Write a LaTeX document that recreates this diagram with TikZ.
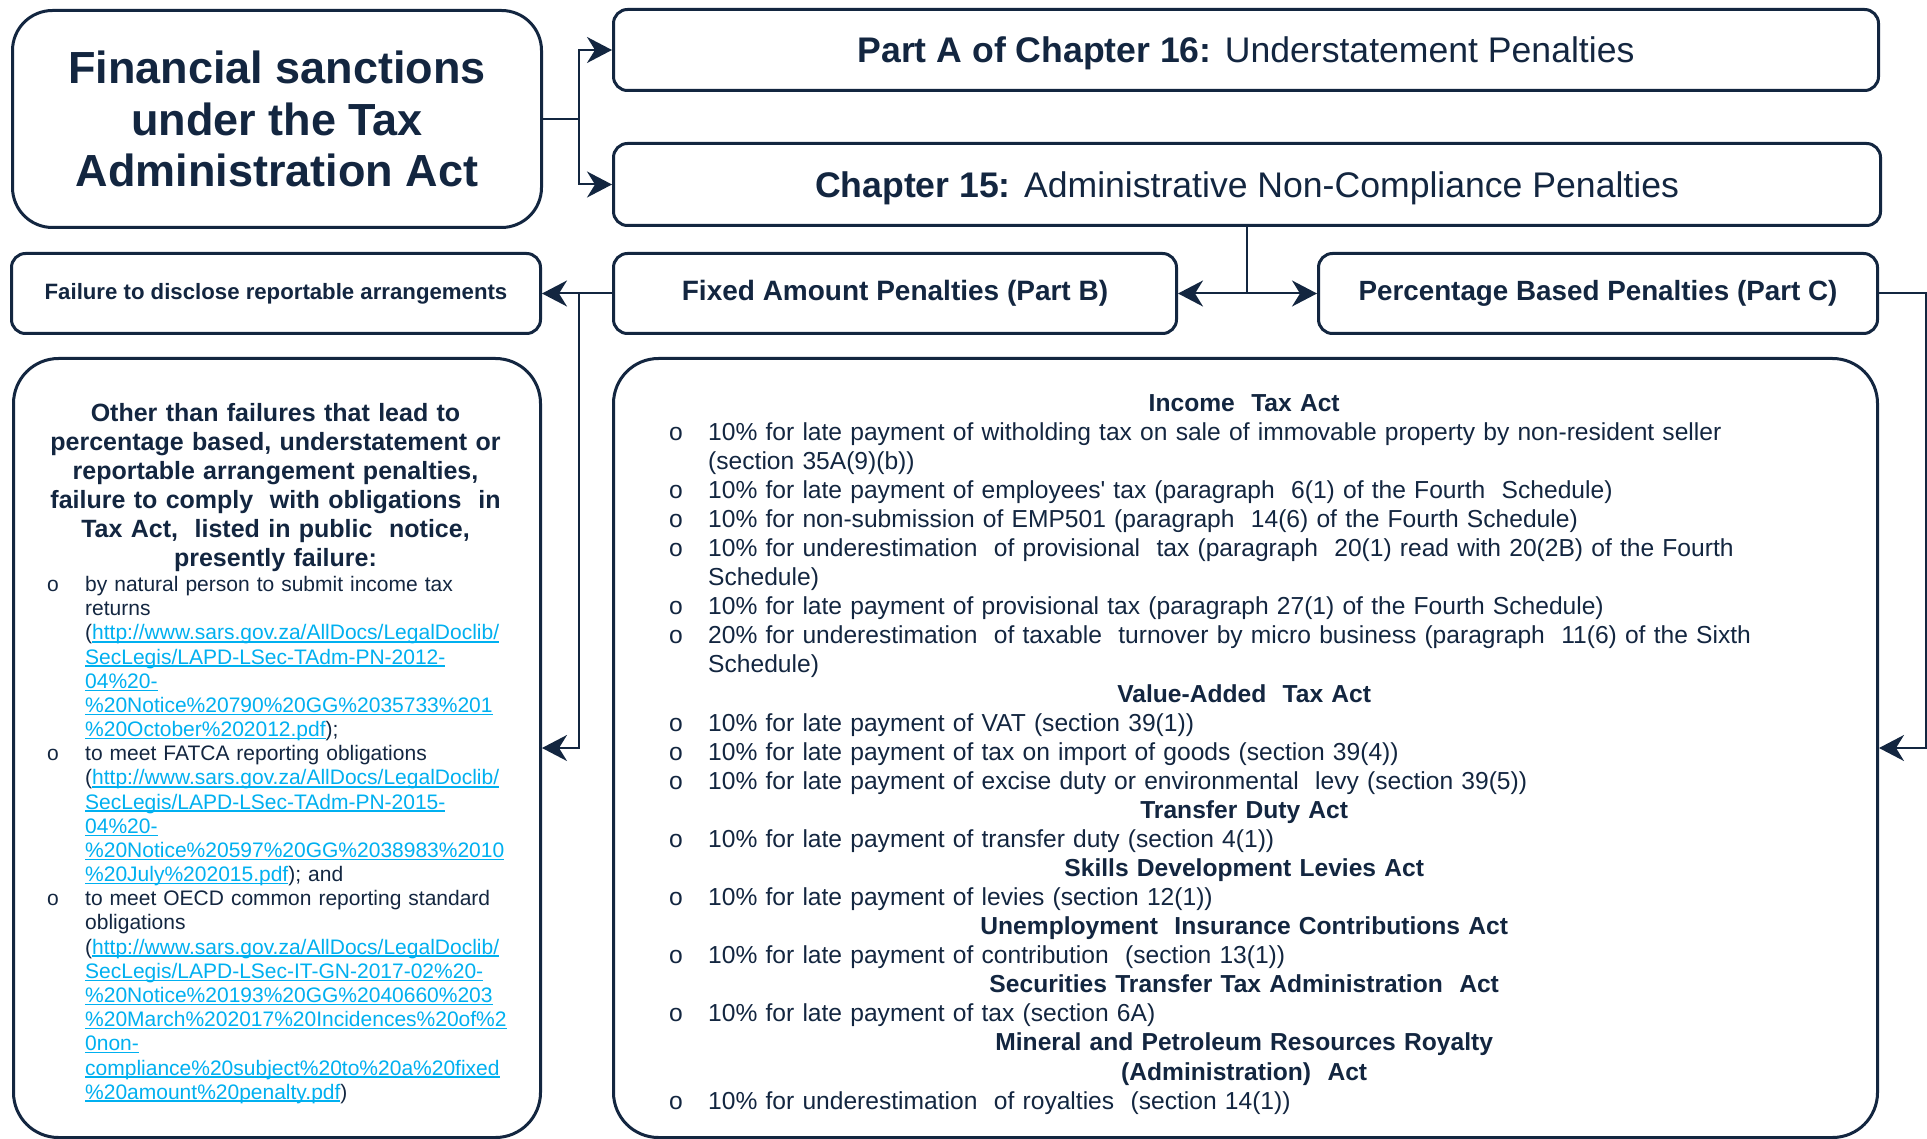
\documentclass[tikz,border=0pt]{standalone}
\usepackage{fontspec}
\setmainfont{Liberation Sans}
\usetikzlibrary{arrows.meta}
\definecolor{navy}{RGB}{19,38,64}
\definecolor{linkblue}{RGB}{0,176,240}
\newcommand\mylnk[1]{{\color{linkblue}\setbox0=\hbox{#1}\rlap{\rule[-2.6pt]{\wd0}{1.3pt}}\box0}}
\newcommand\myrbul{\makebox[39pt][l]{o}}
\newcommand\myrind{\hspace*{39pt}}
\newcommand\myrhead[1]{\makebox[\linewidth][c]{\bfseries #1}}
\newcommand\mylbul{\makebox[38pt][l]{o}}
\newcommand\mylind{\hspace*{38pt}}
\tikzset{
  box/.style={draw=navy, line width=3pt, fill=white, text=navy, inner sep=0pt, anchor=north west},
  smallbox/.style={box, rounded corners=14pt},
  bigbox/.style={box, rounded corners=45pt},
  conn/.style={draw=navy, line width=2pt},
  tipend/.style={-{Stealth[length=25pt,width=26pt,inset=8pt]}},
}
\begin{document}
\begin{tikzpicture}[x=1pt,y=-1pt]
\useasboundingbox (0,0) rectangle (1927,1139);
\fill[white] (0,0) rectangle (1927,1139);

% boxes
\node[box, rounded corners=40pt, minimum width=529pt, minimum height=217pt,
      font=\fontsize{45}{51.6}\selectfont\bfseries, align=center] (title) at (11,9)
      {Financial sanctions\\under the Tax\\Administration Act};
\node[smallbox, minimum width=1265pt, minimum height=81pt, text depth=0pt, font=\fontsize{35.6}{40}\selectfont]
      (partA) at (612,8) {{\bfseries Part A of Chapter 16:} Understatement Penalties};
\node[smallbox, minimum width=1267pt, minimum height=82pt, text depth=0pt, font=\fontsize{35.6}{40}\selectfont]
      (ch15) at (612,142) {{\bfseries Chapter 15:} Administrative Non-Compliance Penalties};
\node[smallbox, minimum width=529pt, minimum height=80pt, font=\fontsize{22.2}{26}\selectfont\bfseries]
      (fail) at (10,252) {Failure to disclose reportable arrangements};
\node[smallbox, minimum width=563pt, minimum height=80pt, font=\fontsize{28}{32}\selectfont\bfseries]
      (fixed) at (612,252) {Fixed Amount Penalties (Part B)};
\node[smallbox, minimum width=559pt, minimum height=80pt, font=\fontsize{27.8}{32}\selectfont\bfseries]
      (perc) at (1317,252) {Percentage Based Penalties (Part C)};
\node[bigbox, minimum width=527pt, minimum height=779pt] (leftbig) at (12,357) {};
\node[bigbox, minimum width=1264pt, minimum height=779pt] (rightbig) at (612,357) {};

% left box text
\node[anchor=north, inner sep=0pt, text width=520pt, align=center, text=navy,
      font=\fontsize{25}{29}\selectfont\bfseries] (lhead) at (275.5,399)
{\rule{0pt}{22pt}Other than failures that lead to\\
percentage based, understatement or\\
reportable arrangement penalties,\\
failure to comply\ \ with obligations\ \ in\\
Tax Act,\ \ listed in public\ \ notice,\\
presently failure:};

\node[anchor=north west, inner sep=0pt, text width=500pt, align=left, text=navy,
      font=\fontsize{21}{24.17}\selectfont] (llist) at (47,573.4)
{\rule{0pt}{18pt}\mylbul by natural person to submit income tax\\
\mylind returns\\
\mylind (\mylnk{http://www.sars.gov.za/AllDocs/LegalDoclib/}\\
\mylind \mylnk{SecLegis/LAPD-LSec-TAdm-PN-2012-}\\
\mylind \mylnk{04\%20-}\\
\mylind \mylnk{\%20Notice\%20790\%20GG\%2035733\%201}\\
\mylind \mylnk{\%20October\%202012.pdf});\\
\mylbul to meet FATCA reporting obligations\\
\mylind (\mylnk{http://www.sars.gov.za/AllDocs/LegalDoclib/}\\
\mylind \mylnk{SecLegis/LAPD-LSec-TAdm-PN-2015-}\\
\mylind \mylnk{04\%20-}\\
\mylind \mylnk{\%20Notice\%20597\%20GG\%2038983\%2010}\\
\mylind \mylnk{\%20July\%202015.pdf}); and\\
\mylbul to meet OECD common reporting standard\\
\mylind obligations\\
\mylind (\mylnk{http://www.sars.gov.za/AllDocs/LegalDoclib/}\\
\mylind \mylnk{SecLegis/LAPD-LSec-IT-GN-2017-02\%20-}\\
\mylind \mylnk{\%20Notice\%20193\%20GG\%2040660\%203}\\
\mylind \mylnk{\%20March\%202017\%20Incidences\%20of\%2}\\
\mylind \mylnk{0non-}\\
\mylind \mylnk{compliance\%20subject\%20to\%20a\%20fixed}\\
\mylind \mylnk{\%20amount\%20penalty.pdf})};

% right box text
\node[anchor=north west, inner sep=0pt, text width=1150pt, align=left, text=navy,
      font=\fontsize{24.6}{29.08}\selectfont] (rtext) at (669,389)
{\rule{0pt}{22pt}\myrhead{Income\ \ Tax Act}\\
\myrbul 10\% for late payment of witholding tax on sale of immovable property by non-resident seller\\
\myrind (section 35A(9)(b))\\
\myrbul 10\% for late payment of employees\textquotesingle\ tax (paragraph\ \ 6(1) of the Fourth\ \ Schedule)\\
\myrbul 10\% for non-submission of EMP501 (paragraph\ \ 14(6) of the Fourth Schedule)\\
\myrbul 10\% for underestimation\ \ of provisional\ \ tax (paragraph\ \ 20(1) read with 20(2B) of the Fourth\\
\myrind Schedule)\\
\myrbul 10\% for late payment of provisional tax (paragraph 27(1) of the Fourth Schedule)\\
\myrbul 20\% for underestimation\ \ of taxable\ \ turnover by micro business (paragraph\ \ 11(6) of the Sixth\\
\myrind Schedule)\\
\myrhead{Value-Added\ \ Tax Act}\\
\myrbul 10\% for late payment of VAT (section 39(1))\\
\myrbul 10\% for late payment of tax on import of goods (section 39(4))\\
\myrbul 10\% for late payment of excise duty or environmental\ \ levy (section 39(5))\\
\myrhead{Transfer Duty Act}\\
\myrbul 10\% for late payment of transfer duty (section 4(1))\\
\myrhead{Skills Development Levies Act}\\
\myrbul 10\% for late payment of levies (section 12(1))\\
\myrhead{Unemployment\ \ Insurance Contributions Act}\\
\myrbul 10\% for late payment of contribution\ \ (section 13(1))\\
\myrhead{Securities Transfer Tax Administration\ \ Act}\\
\myrbul 10\% for late payment of tax (section 6A)\\
\myrhead{Mineral and Petroleum Resources Royalty}\\
\myrhead{(Administration)\ \ Act}\\
\myrbul 10\% for underestimation\ \ of royalties\ \ (section 14(1))};

% connectors
\coordinate (j1) at ([xshift=36pt]title.east);
\draw[conn] (title.east) -- (j1);
\draw[conn, tipend] (j1) |- (partA.west);
\draw[conn, tipend] (j1) |- (ch15.west);

\coordinate (j2) at (ch15.south |- fixed.east);
\draw[conn] (ch15.south) -- (j2);
\draw[conn, tipend] (j2) -- (fixed.east);
\draw[conn, tipend] (j2) -- (perc.west |- j2);

\draw[conn, tipend] (fixed.west) -- (fail.east);
\coordinate (j3) at (j1 |- fixed.west);
\draw[conn, tipend] (j3) |- (leftbig.east);

\coordinate (j4) at ([xshift=47pt]perc.east);
\draw[conn, tipend] (perc.east) -- (j4) |- (rightbig.east);
\end{tikzpicture}
\end{document}
